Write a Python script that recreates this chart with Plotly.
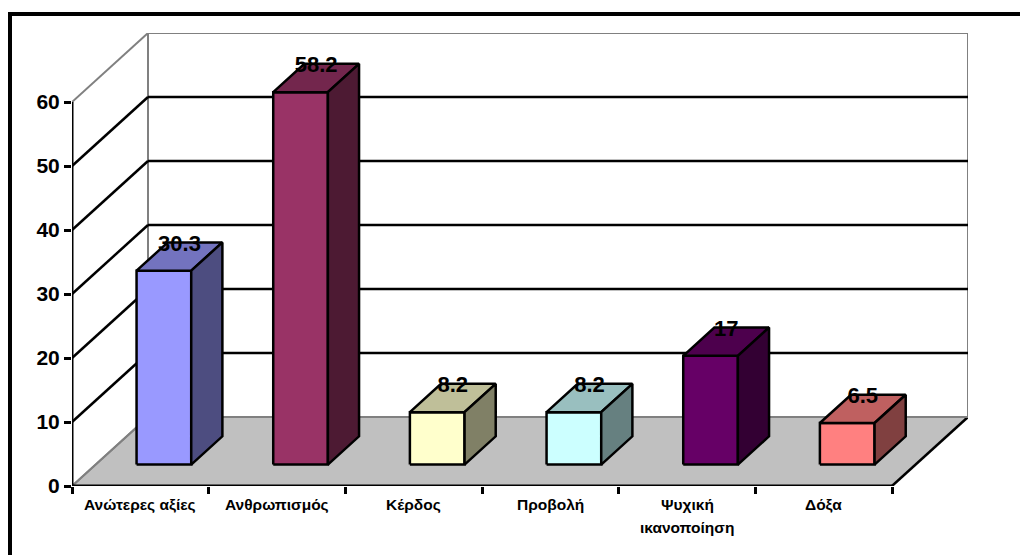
import plotly.graph_objects as go

# ---- data ----
categories = ["Ανώτερες αξίες", "Ανθρωπισμός", "Κέρδος", "Προβολή", "Ψυχική\nικανοποίηση", "Δόξα"]
values = [30.3, 58.2, 8.2, 8.2, 17, 6.5]
value_labels = ["30.3", "58.2", "8.2", "8.2", "17", "6.5"]
y_ticks = [0, 10, 20, 30, 40, 50, 60]

# ---- styles ----
front_colors = ["#9999FF", "#993366", "#FFFFCC", "#CCFFFF", "#660066", "#FF8080"]
top_colors = ["#7373BF", "#73264D", "#BFBF99", "#99BFBF", "#4D004D", "#BF6060"]
side_colors = ["#4D4D80", "#4D1A33", "#808066", "#668080", "#330033", "#804040"]

W, H = 1020, 555
L_MARGIN, R_MARGIN, T_MARGIN, B_MARGIN = 72, 52, 33, 69
PX_PER_CAT = 820 / 6
PX_PER_UNIT = 384 / 60
DEPTH_PX_X, DEPTH_PX_Y = 76, 69
DX = DEPTH_PX_X / PX_PER_CAT     # depth offset in category units
DY = DEPTH_PX_Y / PX_PER_UNIT    # depth offset in value units
YMAX = max(y_ticks)
NCAT = len(categories)
BAR_W = 0.4
T0, T1 = 0.31, 0.72
FONT = "Liberation Sans, Arial, sans-serif"


def P(x, y, t):
    return x + t * DX, y + t * DY


fig = go.Figure()
shapes = []


def poly_path(pts):
    return "M " + " L ".join(f"{x},{y}" for x, y in pts) + " Z"


def line(p, q, color, width=2):
    shapes.append(dict(type="line", xref="x", yref="y", x0=p[0], y0=p[1], x1=q[0], y1=q[1],
                       line=dict(color=color, width=width), layer="below"))


# floor
shapes.append(dict(type="path", xref="x", yref="y",
                   path=poly_path([P(0, 0, 0), P(NCAT, 0, 0), P(NCAT, 0, 1), P(0, 0, 1)]),
                   fillcolor="#C0C0C0", line=dict(width=0), layer="below"))
# walls edges
GRAY = "#808080"
line(P(0, 0, 1), P(0, YMAX, 1), GRAY)
line(P(NCAT, 0, 1), P(NCAT, YMAX, 1), GRAY)
line(P(0, 0, 0), P(0, 0, 1), GRAY)
line(P(NCAT, 0, 0), P(NCAT, 0, 1), "black", 2.5)
for v in y_ticks:
    c = GRAY if v in (0, YMAX) else "black"
    w = 2 if v in (0, YMAX) else 2.5
    line(P(0, v, 0), P(0, v, 1), c, w)
    line(P(0, v, 1), P(NCAT, v, 1), c, w)
# front axes
line(P(0, 0, 0), P(0, YMAX, 0), "black", 3)
line(P(0, 0, 0), P(NCAT, 0, 0), "black", 3)

# bars
lx, ly = [], []
for i, (v, fc, tc, sc) in enumerate(zip(values, front_colors, top_colors, side_colors)):
    x0 = i + (1 - BAR_W) / 2
    x1 = i + (1 + BAR_W) / 2
    faces = [
        ([P(x0, 0, T0), P(x1, 0, T0), P(x1, v, T0), P(x0, v, T0)], fc),
        ([P(x0, v, T0), P(x1, v, T0), P(x1, v, T1), P(x0, v, T1)], tc),
        ([P(x1, 0, T0), P(x1, 0, T1), P(x1, v, T1), P(x1, v, T0)], sc),
    ]
    for pts, col in faces:
        xs = [p[0] for p in pts] + [pts[0][0]]
        ys = [p[1] for p in pts] + [pts[0][1]]
        fig.add_trace(go.Scatter(x=xs, y=ys, mode="lines", fill="toself", fillcolor=col,
                                 line=dict(color="black", width=2.5), hoverinfo="skip",
                                 showlegend=False))
    cx, cy = P(i + 0.5, v, (T0 + T1) / 2)
    lx.append(cx)
    ly.append(cy)

fig.add_trace(go.Scatter(x=lx, y=ly, mode="text", text=[f"<b>{s}</b>" for s in value_labels],
                         textposition="top center",
                         textfont=dict(family=FONT, size=22, color="black"),
                         cliponaxis=False, showlegend=False, hoverinfo="skip"))

# category labels
annotations = []
for i, cat in enumerate(categories):
    for k, part in enumerate(cat.split("\n")):
        annotations.append(dict(x=i + 0.5, y=0, xref="x", yref="y", text=f"<b>{part}</b>",
                                showarrow=False, xanchor="center", yanchor="top",
                                yshift=-8 - 23 * k,
                                font=dict(family=FONT, size=15.5, color="black")))

# outer border (extends beyond the page on right/bottom)
plot_w = W - L_MARGIN - R_MARGIN
plot_h = H - T_MARGIN - B_MARGIN
def px_to_paper_x(px):
    return (px - L_MARGIN) / plot_w
def px_to_paper_y(py):
    return (H - B_MARGIN - py) / plot_h
shapes.append(dict(type="line", xref="paper", yref="paper",
                   x0=px_to_paper_x(8), y0=px_to_paper_y(14), x1=px_to_paper_x(1030), y1=px_to_paper_y(14),
                   line=dict(color="black", width=4)))
shapes.append(dict(type="line", xref="paper", yref="paper",
                   x0=px_to_paper_x(10), y0=px_to_paper_y(12), x1=px_to_paper_x(10), y1=px_to_paper_y(570),
                   line=dict(color="black", width=4)))

fig.update_layout(
    width=W, height=H,
    margin=dict(l=L_MARGIN, r=R_MARGIN, t=T_MARGIN, b=B_MARGIN),
    paper_bgcolor="white", plot_bgcolor="white",
    shapes=shapes, annotations=annotations, showlegend=False,
    xaxis=dict(range=[0, NCAT + DX], tickvals=list(range(NCAT + 1)), showticklabels=False,
               ticks="outside", ticklen=7, tickwidth=2.5, tickcolor="black",
               showgrid=False, zeroline=False, showline=False, fixedrange=True),
    yaxis=dict(range=[0, YMAX + DY], tickvals=y_ticks, ticktext=[f"<b>{t}</b>" for t in y_ticks],
               ticks="outside", ticklen=7, tickwidth=2.5, tickcolor="black",
               tickfont=dict(family=FONT, size=21, color="black"),
               showgrid=False, zeroline=False, showline=False, fixedrange=True),
)

fig.write_html("out.html", config={"displayModeBar": False})
